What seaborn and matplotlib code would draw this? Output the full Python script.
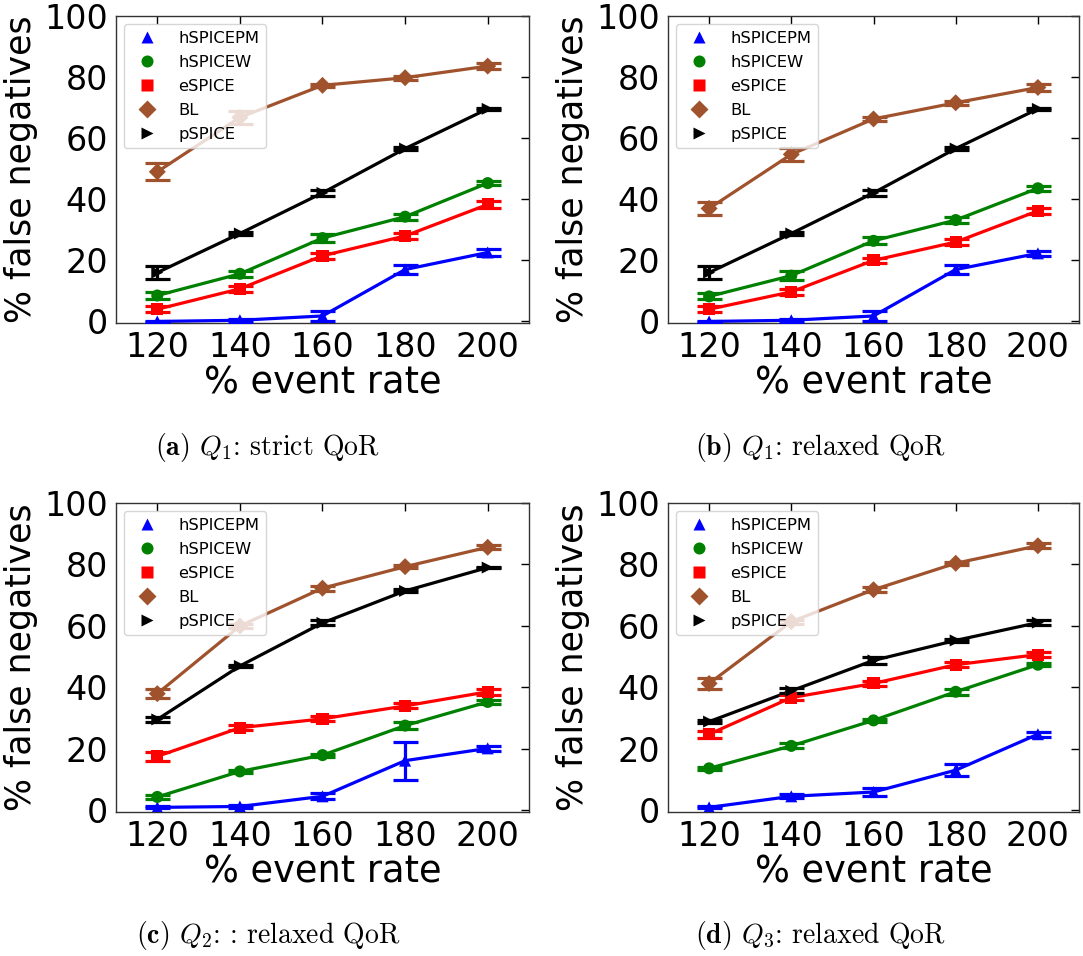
import numpy as np
import pandas as pd
import matplotlib
matplotlib.use("Agg")
import matplotlib.pyplot as plt
import seaborn as sns

# ---------------- data ----------------
rates = [120, 140, 160, 180, 200]
methods = ["hSPICEPM", "hSPICEW", "eSPICE", "BL", "pSPICE"]

# panel (a) Q1 strict
a_hspicepm = [0.0, 0.4, 1.8, 17.0, 22.6]
a_hspicew = [8.5, 15.6, 27.3, 34.3, 45.3]
a_espice = [4.0, 10.7, 21.5, 28.0, 38.3]
a_bl = [49.0, 66.8, 77.3, 79.8, 83.6]
a_pspice = [16.0, 28.8, 42.1, 56.6, 69.6]
a_err_hspicepm = [0.3, 0.5, 1.6, 1.6, 1.2]
a_err_hspicew = [1.0, 1.0, 1.2, 1.0, 0.6]
a_err_espice = [1.0, 1.0, 0.9, 0.9, 1.0]
a_err_bl = [2.8, 2.0, 0.6, 0.6, 1.0]
a_err_pspice = [2.0, 0.5, 1.1, 0.5, 0.3]

# panel (b) Q1 relaxed
b_hspicepm = [0.0, 0.4, 1.8, 17.0, 22.3]
b_hspicew = [8.2, 15.0, 26.4, 33.2, 43.6]
b_espice = [4.0, 9.7, 20.0, 26.0, 36.2]
b_bl = [37.0, 54.7, 66.3, 71.6, 76.6]
b_pspice = [16.0, 28.8, 42.1, 56.6, 69.6]
b_err_hspicepm = [0.3, 0.5, 1.6, 1.6, 0.9]
b_err_hspicew = [1.0, 1.5, 1.2, 1.0, 0.9]
b_err_espice = [1.0, 0.9, 0.9, 0.9, 1.0]
b_err_bl = [2.2, 2.2, 0.8, 0.6, 1.0]
b_err_pspice = [2.0, 0.5, 1.1, 0.5, 0.3]

# panel (c) Q2 relaxed
c_hspicepm = [1.0, 1.3, 4.6, 16.2, 20.2]
c_hspicew = [4.4, 12.7, 18.0, 27.6, 35.3]
c_espice = [17.6, 26.9, 29.8, 34.0, 38.6]
c_bl = [38.0, 60.0, 72.3, 79.3, 85.6]
c_pspice = [29.6, 47.0, 61.0, 71.4, 79.0]
c_err_hspicepm = [0.3, 0.5, 1.0, 6.2, 0.8]
c_err_hspicew = [0.6, 0.5, 0.5, 1.2, 0.6]
c_err_espice = [1.4, 0.8, 0.8, 0.8, 0.9]
c_err_bl = [1.5, 0.6, 0.8, 0.6, 0.6]
c_err_pspice = [0.8, 0.4, 0.8, 0.5, 0.3]

# panel (d) Q3 relaxed
d_hspicepm = [1.0, 4.6, 6.0, 13.1, 24.8]
d_hspicew = [13.7, 21.0, 29.3, 38.6, 47.4]
d_espice = [24.8, 36.7, 41.3, 47.4, 50.7]
d_bl = [41.3, 61.4, 71.8, 80.4, 86.1]
d_pspice = [28.9, 38.9, 48.8, 55.3, 61.1]
d_err_hspicepm = [0.3, 0.7, 1.2, 2.0, 0.8]
d_err_hspicew = [0.5, 0.8, 0.5, 1.0, 0.5]
d_err_espice = [1.2, 0.8, 0.8, 0.8, 0.8]
d_err_bl = [1.8, 0.6, 0.8, 0.5, 0.8]
d_err_pspice = [0.5, 0.8, 1.1, 0.5, 0.8]

captions = [
    r"$\mathbf{(a)}$ $Q_1$: strict QoR",
    r"$\mathbf{(b)}$ $Q_1$: relaxed QoR",
    r"$\mathbf{(c)}$ $Q_2$: : relaxed QoR",
    r"$\mathbf{(d)}$ $Q_3$: relaxed QoR",
]

panels = [
    ([a_hspicepm, a_hspicew, a_espice, a_bl, a_pspice],
     [a_err_hspicepm, a_err_hspicew, a_err_espice, a_err_bl, a_err_pspice]),
    ([b_hspicepm, b_hspicew, b_espice, b_bl, b_pspice],
     [b_err_hspicepm, b_err_hspicew, b_err_espice, b_err_bl, b_err_pspice]),
    ([c_hspicepm, c_hspicew, c_espice, c_bl, c_pspice],
     [c_err_hspicepm, c_err_hspicew, c_err_espice, c_err_bl, c_err_pspice]),
    ([d_hspicepm, d_hspicew, d_espice, d_bl, d_pspice],
     [d_err_hspicepm, d_err_hspicew, d_err_espice, d_err_bl, d_err_pspice]),
]

colors = {"hSPICEPM": "blue", "hSPICEW": "green", "eSPICE": "red",
          "BL": "sienna", "pSPICE": "black"}
markers = {"hSPICEPM": "^", "hSPICEW": "o", "eSPICE": "s",
           "BL": "D", "pSPICE": ">"}

# ---------------- style ----------------
sns.set_theme(style="white")
plt.rcParams["font.family"] = ["DejaVu Sans"]
plt.rcParams["mathtext.fontset"] = "cm"
plt.rcParams["text.color"] = "black"
plt.rcParams["axes.labelcolor"] = "black"

fig = plt.figure(figsize=(10.83, 9.56), dpi=100)
W, H = 1083, 956
boxes = [(116, 16, 529, 323), (668, 16, 1079, 323),
         (116, 503, 529, 812), (668, 503, 1079, 812)]
cap_pos = [(268, 448), (820, 448), (268, 936), (820, 936)]

for i, ((vals, errs), box) in enumerate(zip(panels, boxes)):
    l, t, r, b = box
    ax = fig.add_axes([l / W, 1 - b / H, (r - l) / W, (b - t) / H])
    rows = []
    for m, v in zip(methods, vals):
        for x, y in zip(rates, v):
            rows.append({"rate": x, "fn": y, "method": m})
    df = pd.DataFrame(rows)
    sns.lineplot(data=df, x="rate", y="fn", hue="method", hue_order=methods,
                 palette=colors, linewidth=2.3, legend=False, ax=ax, zorder=2)
    for m, v, e in zip(methods, vals, errs):
        ax.errorbar(rates, v, yerr=e, fmt="none", ecolor=colors[m],
                    elinewidth=2.3, capsize=9, capthick=2.3, zorder=3)
    sns.scatterplot(data=df, x="rate", y="fn", hue="method", hue_order=methods,
                    palette=colors, style="method", markers=markers,
                    style_order=methods, s=75, edgecolor="none", ax=ax,
                    zorder=4)
    ax.set_xlim(110, 210)
    ax.set_ylim(-0.5, 100)
    ax.set_xticks(rates)
    ax.set_yticks([0, 20, 40, 60, 80, 100])
    ax.tick_params(direction="in", top=True, right=True, length=6,
                   width=1, labelsize=24, pad=6, colors="black")
    for s in ax.spines.values():
        s.set_color("#333333")
        s.set_linewidth(1.0)
    ax.set_xlabel("% event rate", fontsize=26.5, labelpad=0)
    ax.set_ylabel("% false negatives", fontsize=25, labelpad=4)
    leg = ax.legend(loc="upper left", fontsize=11.8, frameon=True,
                    framealpha=0.8, edgecolor="0.8", fancybox=True,
                    borderaxespad=0.5, handletextpad=0.9, labelspacing=0.55,
                    markerscale=1.0)
    for txt in leg.get_texts():
        txt.set_color("black")
    fig.text(cap_pos[i][0] / W, 1 - cap_pos[i][1] / H, captions[i],
             fontsize=20, ha="center", va="center", family="cmr10")

fig.savefig("out.png", dpi=100)
